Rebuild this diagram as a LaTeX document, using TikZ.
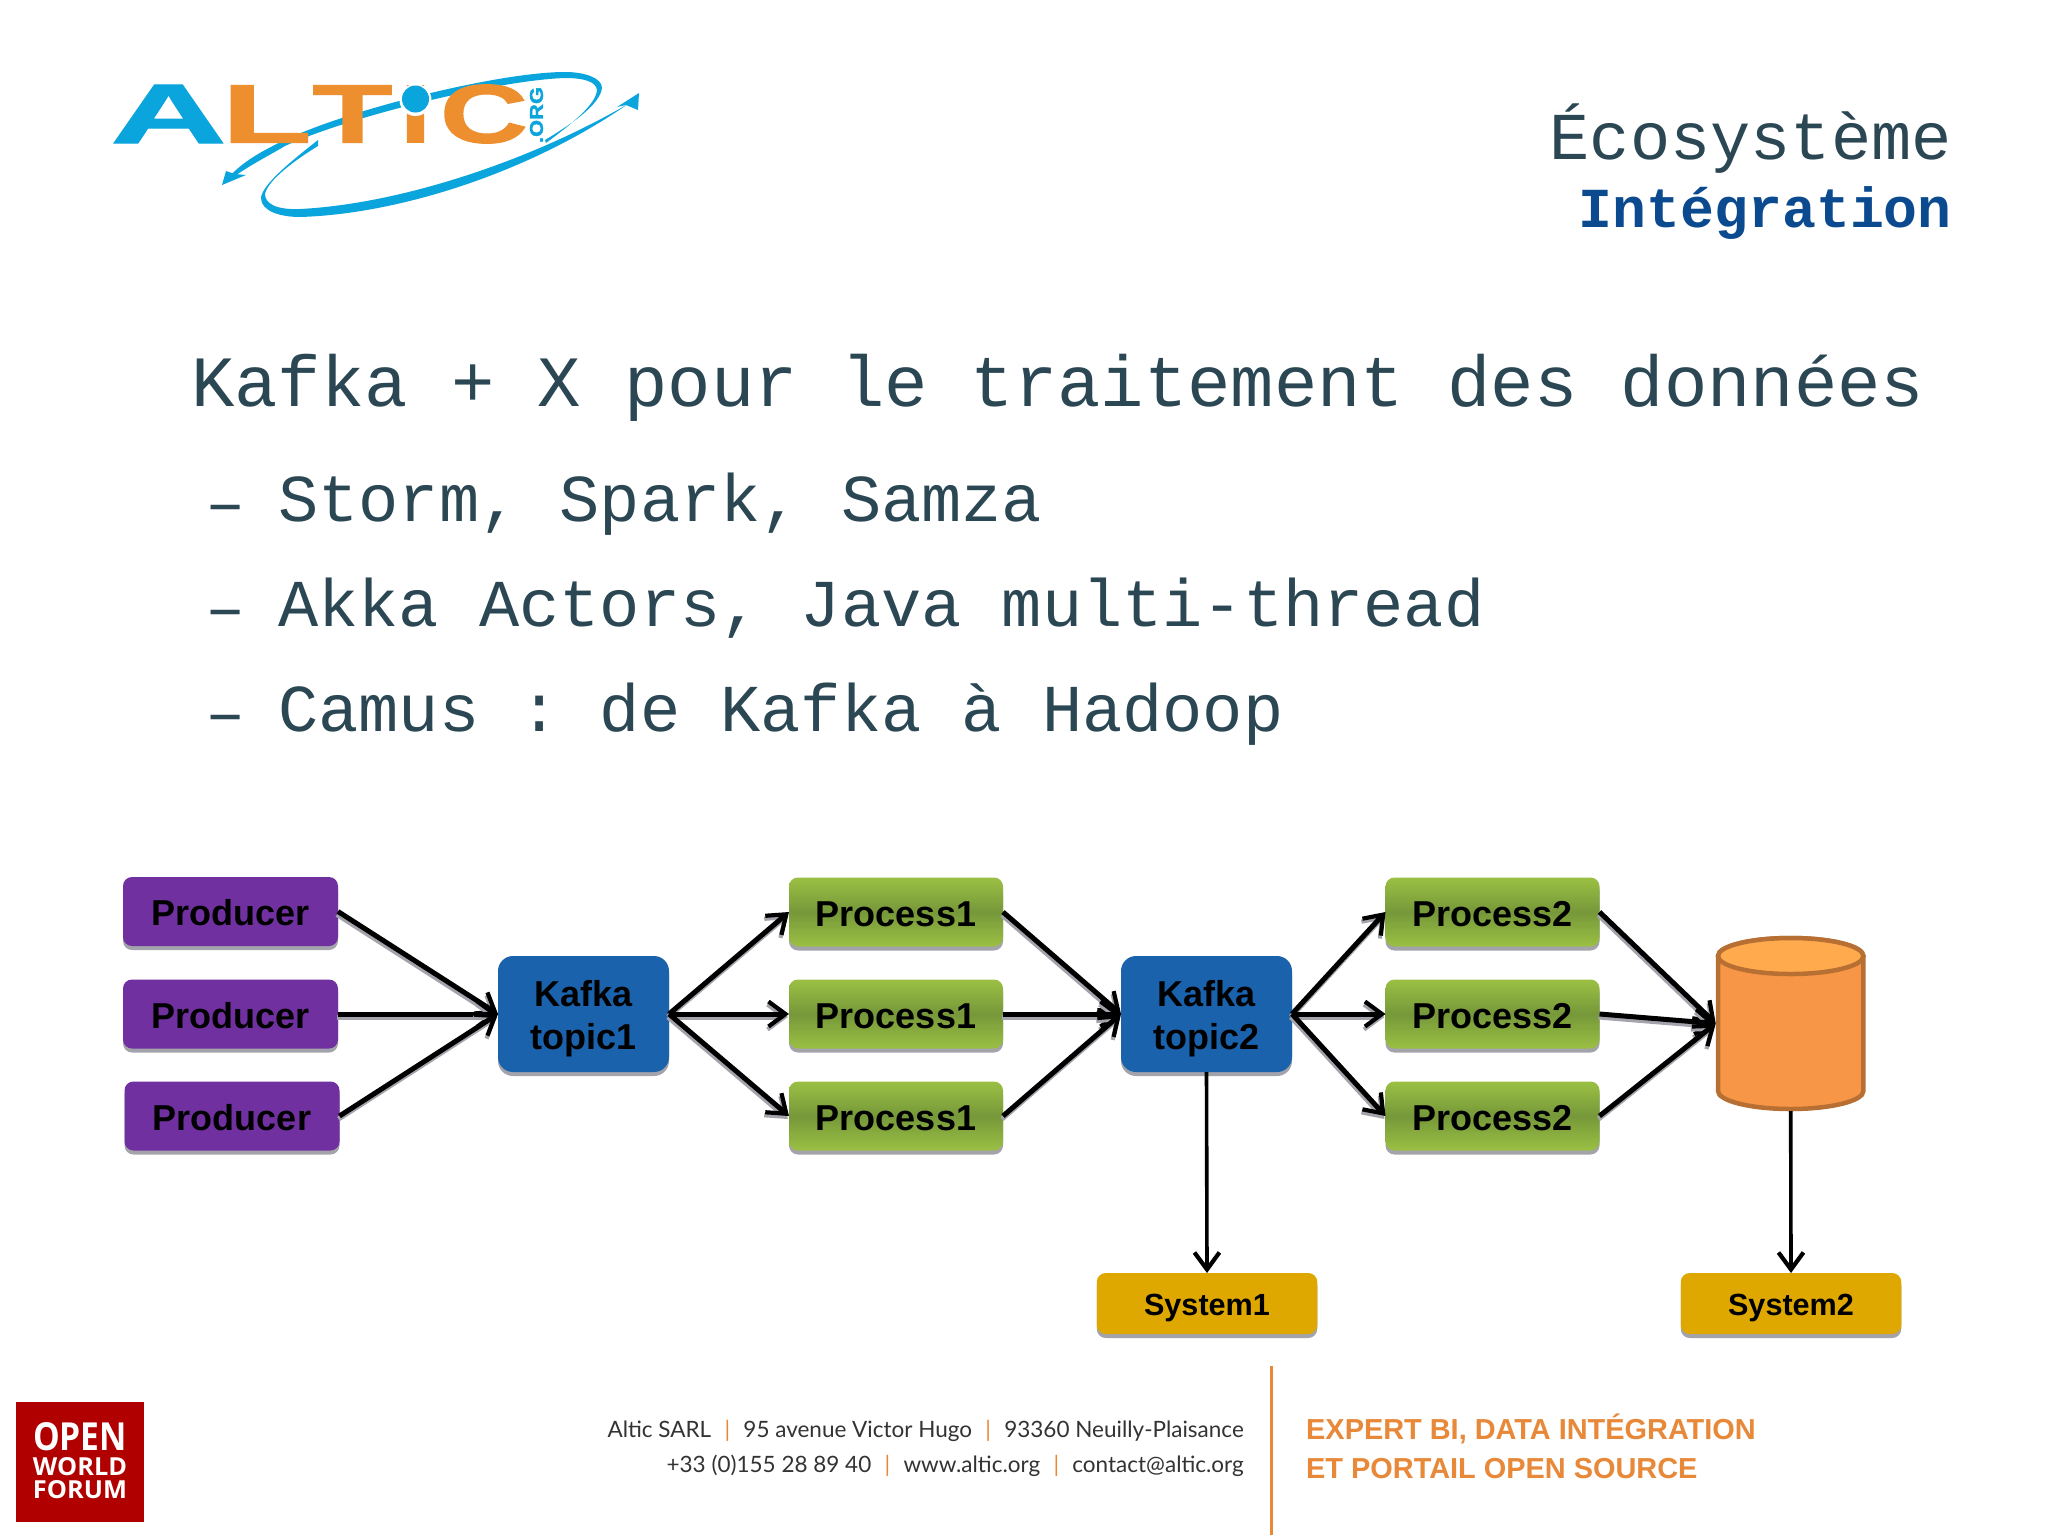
\documentclass[tikz,border=0pt]{standalone}
\usepackage{fontspec}
\usepackage{graphicx}
\setmainfont{Liberation Sans}
\newfontfamily\monof{Liberation Mono}
\newfontfamily\latof{Lato}
\newfontfamily\opensf{Open Sans}
\newfontfamily\logof[BoldFeatures={FakeBold=1.2}]{Liberation Sans}
\usetikzlibrary{arrows.meta,shadows}
\definecolor{slate}{HTML}{2B4753}
\definecolor{navy}{HTML}{0B4A8F}
\definecolor{lblue}{HTML}{0AA5DD}
\definecolor{lorange}{HTML}{EE8F2F}
\definecolor{footor}{HTML}{E8893A}
\definecolor{shadowgrey}{HTML}{A3A3AB}
\definecolor{purplebox}{HTML}{7030A0}
\definecolor{kafkablue}{HTML}{1B62AC}
\definecolor{green1}{HTML}{9BC043}
\definecolor{green2}{HTML}{76983A}
\definecolor{sysyellow}{HTML}{DFA800}
\definecolor{cylborder}{HTML}{B86F34}
\definecolor{cylbody}{HTML}{F79646}
\definecolor{cylend}{HTML}{FFAB4D}
\definecolor{owfred}{HTML}{B00000}
\tikzset{
  box/.style={rectangle,rounded corners=9pt,inner sep=0pt,outer sep=0pt,align=center,text=black,
    font=\bfseries\fontsize{36}{43}\selectfont,
    general shadow={fill=shadowgrey,shadow yshift=-4pt}},
  producerbox/.style={box,fill=purplebox,minimum width=215pt,minimum height=69pt},
  kafkabox/.style={box,rounded corners=15pt,fill=kafkablue,minimum width=171pt,minimum height=116pt},
  processbox/.style={box,minimum width=214pt,minimum height=69pt,top color=green1,bottom color=green1,middle color=green2},
  systembox/.style={box,fill=sysyellow,minimum width=220.5pt,minimum height=61pt,font=\bfseries\fontsize{30.6}{36}\selectfont},
  barbtip/.style={-{Straight Barb[length=17pt,width=25pt,line width=4.2pt]}},
  flow/.style={line width=5pt,black,barbtip,
    preaction={draw=shadowgrey,line width=5pt,barbtip,transform canvas={xshift=-1pt,yshift=-3pt}}},
  thinflow/.style={line width=3.6pt,black,barbtip},
  mono/.style={anchor=base west,inner sep=0pt,text=slate,font=\monof\fontsize{#1}{#1}\selectfont},
  foot/.style={anchor=base east,inner sep=0pt,text=black!80,font=\latof\fontsize{22.5}{28}\selectfont},
  slogan/.style={anchor=base west,inner sep=0pt,text=footor,font=\bfseries\fontsize{28.9}{34}\selectfont},
  letter/.style={inner sep=0pt,outer sep=0pt,font=\logof\bfseries}
}
\newcommand{\sepbar}{\hspace{13.3pt}{\color{footor}|}\hspace{13.3pt}}
\newcommand{\lab}[2]{\raisebox{-#1}[0pt][0pt]{#2}}
\frenchspacing
\begin{document}
\begin{tikzpicture}[x=1pt,y=-1pt]
\useasboundingbox (0,0) rectangle (2048,1535);
\fill[white] (0,0) rectangle (2048,1535);

% logo swooshes
\fill[lblue] (318,140) .. controls (290,162) and (262,185) .. (261,198)
  .. controls (261,211) and (280,217) .. (300,217)
  .. controls (400,214) and (530,172) .. (628,104)
  .. controls (530,161) and (400,204) .. (300,209)
  .. controls (275,210) and (265,203) .. (265,194)
  .. controls (268,180) and (295,160) .. (318,146) -- cycle;
\fill[lblue] (639,93) -- (617,107) -- (626,105) -- (638,110) -- cycle;
\fill[lblue] (545,140) .. controls (570,125) and (600,105) .. (602,88)
  .. controls (602,78) and (585,72) .. (565,72)
  .. controls (500,72) and (350,109) .. (285,140)
  .. controls (255,154) and (240,165) .. (230,176)
  -- (232,178)
  .. controls (250,165) and (270,155) .. (285,146)
  .. controls (350,116) and (500,80) .. (565,78)
  .. controls (585,78) and (596,82) .. (597,90)
  .. controls (596,105) and (570,125) .. (546,143) -- cycle;
\fill[lblue] (222,185) -- (246,175) -- (235,174) -- (226,171) -- cycle;

% logo letters
\node[letter,text=lblue] (logoA) at (168.5,114) {\resizebox{116pt}{58pt}{A}};
\node[letter,text=lorange] (logoL) at (266.8,114) {\resizebox{90pt}{57pt}{L}};
\node[letter,text=lorange] (logoT) at (352.5,114) {\resizebox{80pt}{57pt}{T}};
\node[letter,text=lorange] (logoI) at (415.5,114) {\resizebox{32pt}{57pt}{i}};
\fill[white] (415.5,100) ellipse [x radius=16,y radius=16];
\fill[lblue] (415.5,99) ellipse [x radius=13.5,y radius=13.5];
\node[letter,text=lorange] (logoC) at (484,114) {\resizebox{88pt}{58pt}{C}};
\node[letter,text=lblue,rotate=90] (logoOrg) at (536.5,115) {\resizebox{56pt}{13pt}{.ORG}};

% titles
\node[mono=67,anchor=base east] (title1) at (1952,159) {Écosystème};
\node[mono=56.5,anchor=base east,text=navy,font=\monof\bfseries\fontsize{56.5}{56.5}\selectfont] (title2) at (1952,227) {Intégration};
\node[mono=72.2] (head) at (191,406) {Kafka + X pour le traitement des données};
\node[mono=67] (d1) at (205,524) {–};
\node[mono=67] (b1) at (278,521) {Storm, Spark, Samza};
\node[mono=67] (d2) at (205,629) {–};
\node[mono=67] (b2) at (278,626) {Akka Actors, Java multi-thread};
\node[mono=67] (d3) at (205,734) {–};
\node[mono=67] (b3) at (278,731) {Camus : de Kafka à Hadoop};

% diagram
\node[producerbox] (pr1) at (230.5,911.5) {\lab{14pt}{Producer}};
\node[producerbox] (pr2) at (230.5,1014) {\lab{14pt}{Producer}};
\node[producerbox] (pr3) at (232,1116) {\lab{14pt}{Producer}};
\node[kafkabox] (k1) at (583.5,1014) {\lab{13.7pt}{Kafka}\\\lab{13.7pt}{topic1}};
\node[processbox] (pa1) at (896,912) {\lab{14pt}{Process1}};
\node[processbox] (pa2) at (896,1014) {\lab{14pt}{Process1}};
\node[processbox] (pa3) at (896,1116) {\lab{14pt}{Process1}};
\node[kafkabox] (k2) at (1206.5,1014) {\lab{13.7pt}{Kafka}\\\lab{13.7pt}{topic2}};
\node[processbox] (pb1) at (1492.5,912) {\lab{14pt}{Process2}};
\node[processbox] (pb2) at (1492.5,1014) {\lab{14pt}{Process2}};
\node[processbox] (pb3) at (1492.5,1116) {\lab{14pt}{Process2}};
% cylinder
\node[rectangle,inner sep=0pt,outer sep=0pt,minimum width=150pt,minimum height=175pt] (db) at (1790.7,1023.5) {};
\filldraw[fill=cylbody,draw=cylborder,line width=4.5pt]
  (1718,956) -- (1718,1091) arc [start angle=180,end angle=0,x radius=72.7,y radius=18]
  -- (1863.4,956) arc [start angle=0,end angle=-180,x radius=72.7,y radius=18] -- cycle;
\filldraw[fill=cylend,draw=cylborder,line width=4.5pt] (1790.7,956) ellipse [x radius=72.7,y radius=18];
\node[systembox] (s1) at (1207,1303.5) {\lab{12.2pt}{System1}};
\node[systembox] (s2) at (1791,1303.5) {\lab{12.2pt}{System2}};

\foreach \a in {pr1,pr2,pr3} \draw[flow] (\a.east) -- (k1.west);
\foreach \b in {pa1,pa2,pa3} {\draw[flow] (k1.east) -- (\b.west); \draw[flow] (\b.east) -- (k2.west);}
\foreach \c in {pb1,pb2,pb3} {\draw[flow] (k2.east) -- (\c.west); \draw[flow] (\c.east) -- (db.west);}
\draw[thinflow] (k2.south) -- (s1.north);
\draw[thinflow] (db.south) -- (s2.north);

% footer
\node[rectangle,fill=owfred,minimum width=127.5pt,minimum height=120pt,inner sep=0pt] (owf) at (80,1462) {};
\node[inner sep=0pt,text=white,font=\opensf\bfseries] (o1) at (80,1436.5) {\resizebox{94pt}{28pt}{OPEN}};
\node[inner sep=0pt,text=white,font=\opensf\bfseries] (o2) at (80,1466.5) {\resizebox{94pt}{18pt}{WORLD}};
\node[inner sep=0pt,text=white,font=\opensf\bfseries] (o3) at (80,1490) {\resizebox{94pt}{18pt}{FORUM}};
\node[foot] (f1) at (1244,1437) {Altic SARL\sepbar 95 avenue Victor Hugo\sepbar 93360 Neuilly-Plaisance};
\node[foot] (f2) at (1244,1472) {+33 (0)155 28 89 40\sepbar www.altic.org\sepbar contact@altic.org};
\coordinate (vtop) at (1271.5,1366);
\coordinate (vbot) at (1271.5,1535);
\draw[footor,line width=2.5pt] (vtop) -- (vbot);
\node[slogan] (g1) at (1306,1439) {EXPERT BI, DATA INTÉGRATION};
\node[slogan] (g2) at (1306,1478) {ET PORTAIL OPEN SOURCE};
\end{tikzpicture}
\end{document}
